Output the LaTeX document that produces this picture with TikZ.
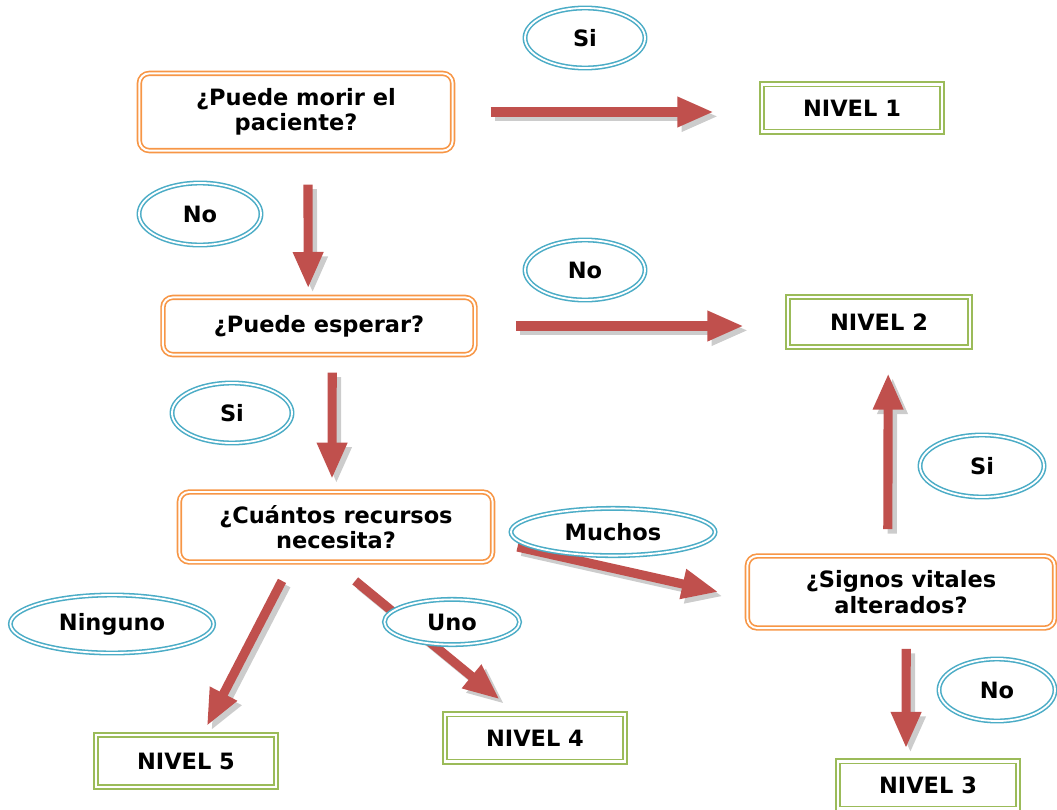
\documentclass[tikz,border=0pt]{standalone}
\usepackage{fontspec}
\setmainfont{DejaVu Sans}
\usepackage{tikz}
\usetikzlibrary{arrows.meta,shapes.geometric}
\definecolor{naranja}{HTML}{F79646}
\definecolor{celeste}{HTML}{4BACC6}
\definecolor{verde}{HTML}{9BBB59}
\definecolor{rojo}{HTML}{C0504D}

\begin{document}
\begin{tikzpicture}[x=0.025cm,y=-0.025cm,
    every node/.style={font=\fontsize{16}{18}\selectfont\bfseries,align=center,inner sep=0pt},
    pregunta/.style={draw=naranja,double=white,double distance=1.4pt,line width=1.2pt,rounded corners=7pt},
    resp/.style={ellipse,draw=celeste,double=white,double distance=1.3pt,line width=1.1pt,fill=white},
    nivel/.style={draw=verde,double=white,double distance=1.6pt,line width=1.3pt,minimum width=4.5cm,minimum height=1.18cm},
    flecha/.style={line width=6.5pt,draw=rojo,-{Triangle[length=26pt,width=20pt]},
      preaction={draw=black!20,line width=6.5pt,-{Triangle[length=26pt,width=20pt]},transform canvas={shift={(0.11cm,-0.11cm)}}}}]
  \useasboundingbox (0,0) rectangle (1057,809);
  % preguntas
  \node[pregunta,minimum width=7.83cm,minimum height=1.93cm] (q1) at (296,112) {¿Puede morir el\\paciente?};
  \node[pregunta,minimum width=7.8cm,minimum height=1.43cm] (q2) at (319,326) {¿Puede esperar?};
  \node[pregunta,minimum width=7.83cm,minimum height=1.75cm] (q3) at (336,527) {¿Cuántos recursos\\necesita?};
  \node[pregunta,minimum width=7.68cm,minimum height=1.8cm] (q4) at (901,592) {¿Signos vitales\\alterados?};
  % niveles
  \node[nivel] (n1) at (852,108) {NIVEL 1};
  \node[nivel,minimum width=4.55cm,minimum height=1.25cm] (n2) at (879,322) {NIVEL 2};
  \node[nivel] (n3) at (928,785) {NIVEL 3};
  \node[nivel] (n4) at (535,738) {NIVEL 4};
  \node[nivel,minimum height=1.3cm] (n5) at (186,761) {NIVEL 5};
  % flechas
  \draw[flecha] ([xshift=0.93cm]q1.east) -- ([xshift=-1.18cm]q1.east -| n1.west);
  \draw[flecha] ([xshift=0.3cm,yshift=-0.83cm]q1.south) -- ([xshift=-0.27cm,yshift=0.2cm]q2.north);
  \draw[flecha] ([xshift=1cm]q2.east) -- ([xshift=-1.08cm]q2.east -| n2.west);
  \draw[flecha] ([xshift=0.33cm,yshift=-0.43cm]q2.south) -- ([xshift=-0.1cm,yshift=0.3cm]q3.north);
  \draw[flecha] ([xshift=0.6cm,yshift=-0.5cm]q3.east) -- ([xshift=-0.7cm]q4.west);
  \draw[flecha] ([xshift=-1.35cm,yshift=-0.45cm]q3.south) -- ([xshift=0.52cm,yshift=0.2cm]n5.north);
  \draw[flecha] ([xshift=0.48cm,yshift=-0.45cm]q3.south) -- ([xshift=-0.88cm,yshift=0.35cm]n4.north);
  \draw[flecha] ([xshift=-0.33cm,yshift=0.65cm]q4.north) -- ([xshift=0.23cm,yshift=-0.63cm]n2.south);
  \draw[flecha] ([xshift=0.13cm,yshift=-0.5cm]q4.south) -- ([xshift=-0.55cm,yshift=0.3cm]n3.north);
  % respuestas
  \node[resp,minimum width=3cm,minimum height=1.5cm] (r1) at (585,38) {Si};
  \node[resp,minimum width=3.05cm,minimum height=1.55cm] (r2) at (200,214) {No};
  \node[resp,minimum width=3cm,minimum height=1.5cm] (r3) at (585,270) {No};
  \node[resp,minimum width=3cm,minimum height=1.5cm] (r4) at (232,413) {Si};
  \node[resp,minimum width=5.1cm,minimum height=1.18cm] (r5) at (613,532) {Muchos};
  \node[resp,minimum width=3.1cm,minimum height=1.55cm] (r6) at (982,466) {Si};
  \node[resp,minimum width=5.08cm,minimum height=1.45cm] (r7) at (112,624) {Ninguno};
  \node[resp,minimum width=3.38cm,minimum height=1.13cm] (r8) at (452,622) {Uno};
  \node[resp,minimum width=2.9cm,minimum height=1.55cm] (r9) at (997,690) {No};
\end{tikzpicture}
\end{document}
